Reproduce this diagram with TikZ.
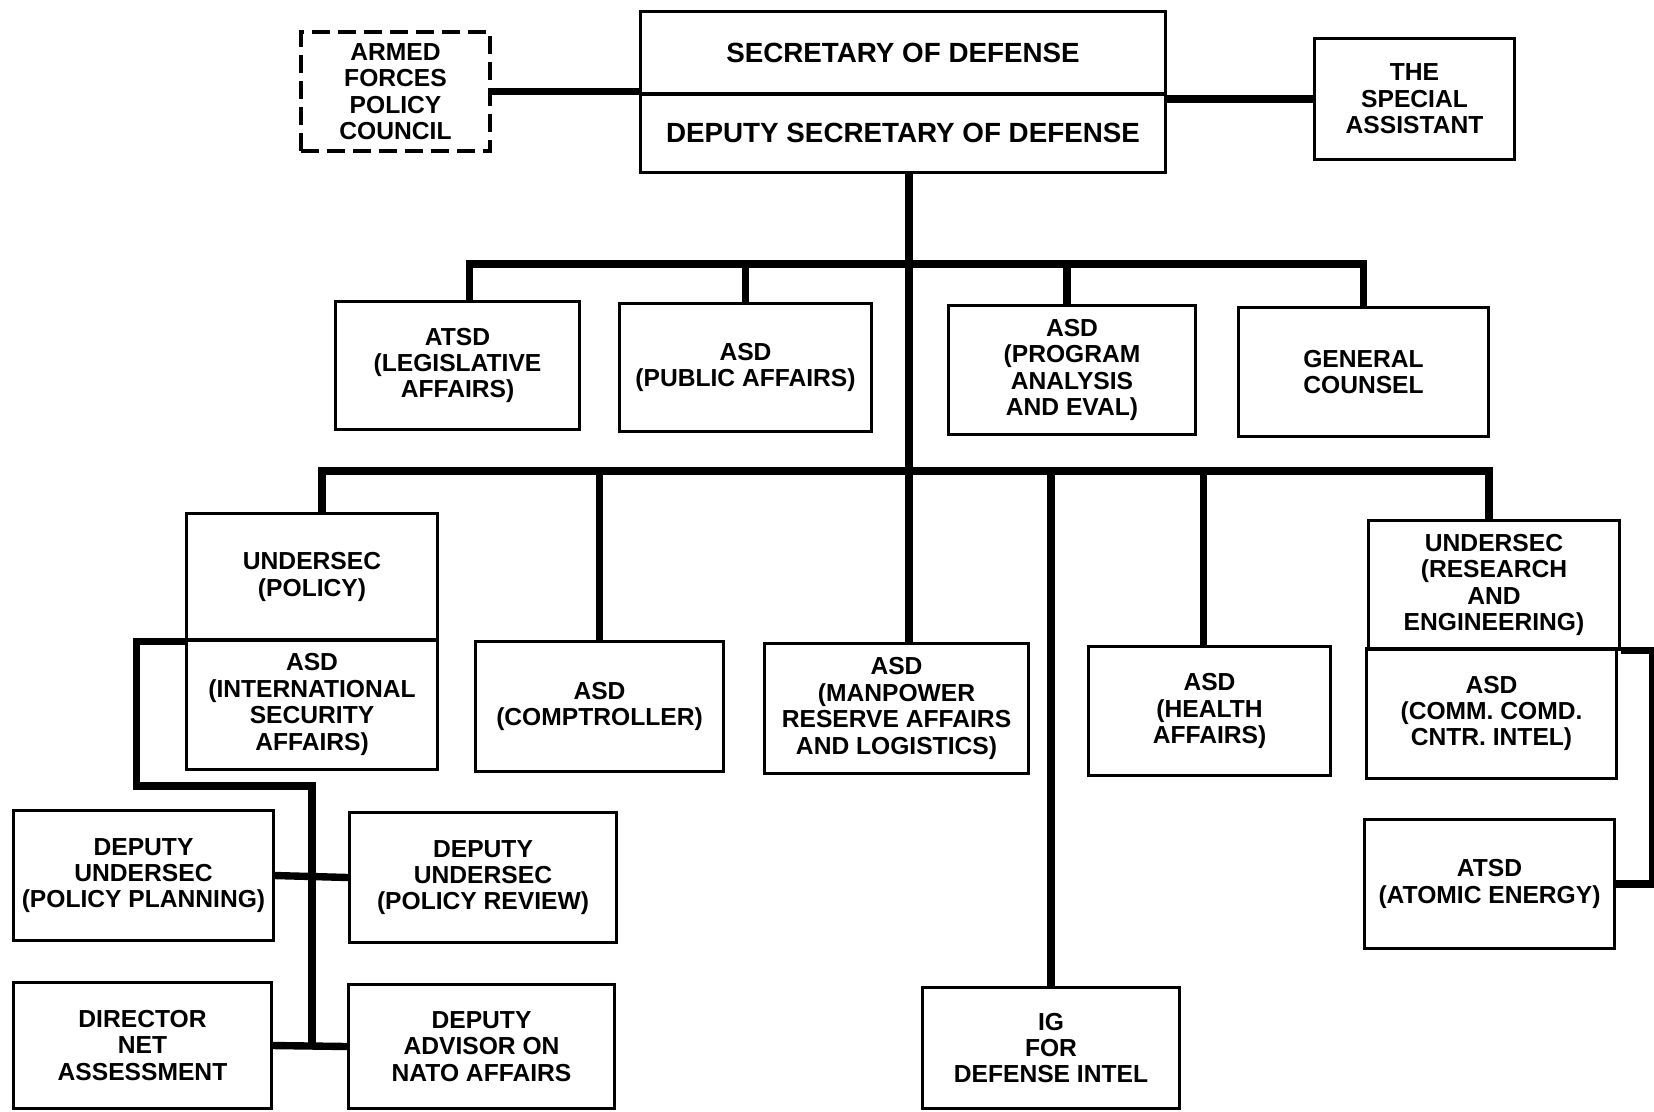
\documentclass[tikz,border=0pt]{standalone}
\usepackage{fontspec}
\setmainfont{Liberation Sans}
\usepackage{tikz}

\begin{document}
\begin{tikzpicture}[x=0.01cm,y=-0.01cm,
    box/.style={shape=rectangle,draw,line width=0.85pt,align=center,inner sep=0pt,
        font=\bfseries\fontsize{7}{7.5}\selectfont},
    bigbox/.style={box,font=\bfseries\fontsize{7.9}{9}\selectfont},
    link/.style={line width=2.1pt}]
    \useasboundingbox (0,0) rectangle (1654,1111);
    % top level
    \node (afpc) at (395.5,91.5) [box,line width=1.1pt,dash pattern=on 5pt off 2.4pt,minimum width=1.89cm,minimum height=1.19cm] {ARMED\\FORCES\\POLICY\\COUNCIL};
    \node (secdef) at (903,53) [bigbox,minimum width=5.24cm,minimum height=0.82cm] {SECRETARY OF DEFENSE};
    \node (depsec) at (903,133) [bigbox,minimum width=5.24cm,minimum height=0.79cm] {DEPUTY SECRETARY OF DEFENSE};
    \node (special) at (1414.5,99) [box,minimum width=1.99cm,minimum height=1.2cm] {THE\\SPECIAL\\ASSISTANT};
    % first row
    \node (leg) at (457.5,365.5) [box,minimum width=2.43cm,minimum height=1.27cm] {ATSD\\(LEGISLATIVE\\AFFAIRS)};
    \node (pubaff) at (745.5,367.5) [box,minimum width=2.51cm,minimum height=1.27cm] {ASD\\(PUBLIC AFFAIRS)};
    \node (pae) at (1072,370) [box,minimum width=2.46cm,minimum height=1.28cm] {ASD\\(PROGRAM\\ANALYSIS\\AND EVAL)};
    \node (gc) at (1363.5,372) [box,minimum width=2.49cm,minimum height=1.28cm] {GENERAL\\COUNSEL};
    % second row
    \node (uspol) at (312,577) [box,minimum width=2.5cm,minimum height=1.26cm] {UNDERSEC\\(POLICY)};
    \node (isa) at (312,704.5) [box,minimum width=2.5cm,minimum height=1.29cm] {ASD\\(INTERNATIONAL\\SECURITY\\AFFAIRS)};
    \node (comp) at (599.5,706.5) [box,minimum width=2.47cm,minimum height=1.29cm] {ASD\\(COMPTROLLER)};
    \node (manp) at (896.5,708.5) [box,minimum width=2.63cm,minimum height=1.29cm] {ASD\\(MANPOWER\\RESERVE AFFAIRS\\AND LOGISTICS)};
    \node (health) at (1209.5,711) [box,minimum width=2.41cm,minimum height=1.28cm] {ASD\\(HEALTH\\AFFAIRS)};
    \node (usre) at (1494,585) [box,minimum width=2.5cm,minimum height=1.28cm] {UNDERSEC\\(RESEARCH\\AND\\ENGINEERING)};
    \node (ccci) at (1491.5,713.5) [box,minimum width=2.49cm,minimum height=1.29cm] {ASD\\(COMM. COMD.\\CNTR. INTEL)};
    \node (atom) at (1489.5,884) [box,minimum width=2.49cm,minimum height=1.28cm] {ATSD\\(ATOMIC ENERGY)};
    \node (ig) at (1051,1048) [box,minimum width=2.56cm,minimum height=1.2cm] {IG\\FOR\\DEFENSE INTEL};
    % policy staff
    \node (polplan) at (143.5,875.5) [box,minimum width=2.59cm,minimum height=1.29cm] {DEPUTY\\UNDERSEC\\(POLICY PLANNING)};
    \node (polrev) at (483,877.5) [box,minimum width=2.66cm,minimum height=1.29cm] {DEPUTY\\UNDERSEC\\(POLICY REVIEW)};
    \node (netass) at (142.5,1045.5) [box,minimum width=2.57cm,minimum height=1.25cm] {DIRECTOR\\NET\\ASSESSMENT};
    \node (nato) at (481.5,1046.5) [box,minimum width=2.65cm,minimum height=1.23cm] {DEPUTY\\ADVISOR ON\\NATO AFFAIRS};
    \coordinate (busa) at (909,264);
    \coordinate (busb) at (909,471);
    \coordinate (polspine) at (312,786);
    % connectors
    \draw[link] (afpc.east) -- (afpc.east -| secdef.west);
    \draw[link] (special.west) -- (special.west -| secdef.east);
    \draw[link] (busa |- depsec.south) -- (busa |- manp.north);
    \draw[link] ([xshift=0.12cm]leg.north) |- (busa) -| (gc.north);
    \draw[link] (pubaff.north) -- (pubaff.north |- busa);
    \draw[link] ([xshift=-0.05cm]pae.north) -- ([xshift=-0.05cm]pae.north |- busa);
    \draw[link] ([xshift=0.1cm]uspol.north) |- (busb) -| ([xshift=-0.05cm]usre.north);
    \draw[link] (comp.north) -- (comp.north |- busb);
    \draw[link] (ig.north) -- (ig.north |- busb);
    \draw[link] ([xshift=-0.06cm]health.north) -- ([xshift=-0.06cm]health.north |- busb);
    \draw[link] (uspol.south west) -- ++(-49,0) |- (polspine) -- (polspine |- netass.east);
    \draw[link] (polplan.east) -- (polrev.west);
    \draw[link] (netass.east) -- (nato.west);
    \draw[link] (usre.south east) -- ++(32,0) |- (atom.east);
\end{tikzpicture}
\end{document}
